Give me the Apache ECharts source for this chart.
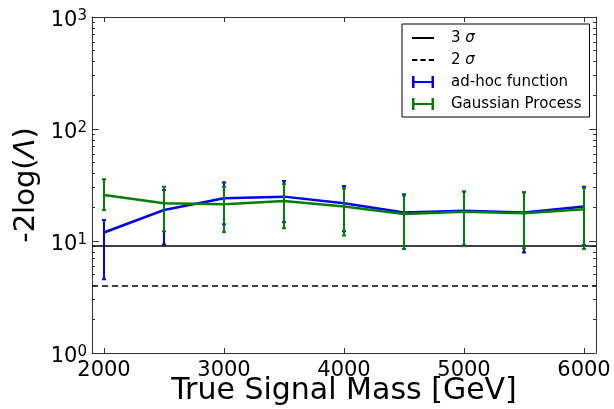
<!DOCTYPE html>
<html>
<head>
<meta charset="utf-8">
<script src="https://cdn.jsdelivr.net/npm/echarts@6/dist/echarts.min.js"></script>
<style>
html,body{margin:0;padding:0;background:#fff;}
#chart{width:614px;height:409px;}
</style>
</head>
<body>
<div id="chart"></div>
<script>
// ---- data ----
const masses   = [2000, 2500, 3000, 3500, 4000, 4500, 5000, 5500, 6000];
const adhoc    = [11.9, 18.9, 24.1, 24.9, 21.7, 18.0, 18.6, 18.0, 20.3];
const adhocLo  = [4.55, 9.3, 14.1, 14.7, 12.2, 8.5, 9.15, 7.9, 9.2];
const adhocHi  = [15.4, 28.5, 33.4, 34.3, 31.0, 26.1, 27.6, 27.2, 30.5];
const gp       = [25.7, 21.7, 21.3, 22.8, 20.3, 17.4, 18.2, 17.7, 19.2];
const gpLo     = [18.9, 12.2, 12.0, 13.0, 11.2, 8.5, 9.0, 8.6, 8.5];
const gpHi     = [35.6, 30.5, 30.5, 32.3, 29.5, 25.5, 27.6, 27.2, 29.7];
const sigmaNames  = ['3 σ', '2 σ'];
const sigmaValues = [9, 4];
const xTicks = [2000, 3000, 4000, 5000, 6000];
const yMajor = [1, 10, 100, 1000];
const yMinor = [2,3,4,5,6,7,8,9,20,30,40,50,60,70,80,90,200,300,400,500,600,700,800,900];

const FONT = 'DejaVu Sans';
const AXIS_COLOR = '#333';

function errBarRender(color) {
  return function (params, api) {
    const x = api.value(0);
    const lo = api.coord([x, api.value(1)]);
    const hi = api.coord([x, api.value(2)]);
    const cw = 2;
    const style = { stroke: color, lineWidth: 2 };
    return {
      type: 'group',
      children: [
        { type: 'line', shape: { x1: lo[0], y1: lo[1], x2: hi[0], y2: hi[1] }, style: style },
        { type: 'line', shape: { x1: lo[0]-cw, y1: lo[1], x2: lo[0]+cw, y2: lo[1] }, style: style },
        { type: 'line', shape: { x1: hi[0]-cw, y1: hi[1], x2: hi[0]+cw, y2: hi[1] }, style: style }
      ]
    };
  };
}

const zip2 = (a, b) => a.map((v, i) => [v, b[i]]);
const zip3 = (a, b, c) => a.map((v, i) => [v, b[i], c[i]]);

const yAxisBase = {
  type: 'log', logBase: 10, min: 1, max: 1000,
  splitLine: { show: false }, minorTick: { show: false }
};

const option = {
  animation: false,
  backgroundColor: '#fff',
  textStyle: { fontFamily: FONT },
  grid: { left: 92, top: 17, right: 18, bottom: 56, containLabel: false, outerBoundsMode: 'none' },
  xAxis: [
    {
      type: 'value', min: 1900, max: 6100, position: 'bottom',
      name: 'True Signal Mass [GeV]', nameLocation: 'middle', nameGap: 23, nameMoveOverlap: false,
      nameTextStyle: { fontFamily: FONT, fontSize: 30, color: '#000' },
      axisLine: { show: true, onZero: false, lineStyle: { color: AXIS_COLOR, width: 1 } },
      axisTick: { show: true, inside: true, length: 5, customValues: xTicks, lineStyle: { color: AXIS_COLOR } },
      axisLabel: {
        show: true, customValues: xTicks, fontFamily: FONT, fontSize: 21, color: '#000', margin: 7,
        formatter: function (v) { return String(v); }
      },
      splitLine: { show: false }
    },
    {
      type: 'value', min: 1900, max: 6100, position: 'top',
      axisLine: { show: true, onZero: false, lineStyle: { color: AXIS_COLOR, width: 1 } },
      axisTick: { show: true, inside: true, length: 5, customValues: xTicks, lineStyle: { color: AXIS_COLOR } },
      axisLabel: { show: false },
      splitLine: { show: false }
    }
  ],
  yAxis: [
    Object.assign({}, yAxisBase, {
      position: 'left',
      name: '{a|-2log(}{b|Λ}{a|)}', nameLocation: 'middle', nameGap: 51, nameRotate: 90, nameMoveOverlap: false,
      nameTextStyle: {
        rich: {
          a: { fontFamily: FONT, fontSize: 29, color: '#000' },
          b: { fontFamily: FONT, fontSize: 29, fontStyle: 'italic', color: '#000' }
        }
      },
      axisLine: { show: true, onZero: false, lineStyle: { color: AXIS_COLOR, width: 1 } },
      axisTick: { show: true, inside: true, length: 7, customValues: yMajor, lineStyle: { color: AXIS_COLOR } },
      axisLabel: {
        show: true, customValues: yMajor, margin: 5, padding: [8, 0, 0, 0],
        formatter: function (v) {
          const e = Math.round(Math.log10(v));
          return '{b|10}{s|' + e + '}';
        },
        rich: {
          b: { fontFamily: FONT, fontSize: 21, color: '#000' },
          s: { fontFamily: FONT, fontSize: 15, color: '#000', verticalAlign: 'top', padding: [0, 0, 10, 0] }
        }
      }
    }),
    Object.assign({}, yAxisBase, {
      position: 'left',
      axisLine: { show: false },
      axisTick: { show: true, inside: true, length: 3, customValues: yMinor, lineStyle: { color: AXIS_COLOR } },
      axisLabel: { show: false }
    }),
    Object.assign({}, yAxisBase, {
      position: 'right',
      axisLine: { show: true, onZero: false, lineStyle: { color: AXIS_COLOR, width: 1 } },
      axisTick: { show: true, inside: true, length: 7, customValues: yMajor, lineStyle: { color: AXIS_COLOR } },
      axisLabel: { show: false }
    }),
    Object.assign({}, yAxisBase, {
      position: 'right',
      axisLine: { show: false },
      axisTick: { show: true, inside: true, length: 3, customValues: yMinor, lineStyle: { color: AXIS_COLOR } },
      axisLabel: { show: false }
    })
  ],
  legend: {
    orient: 'vertical',
    left: 402, top: 24,
    padding: [6, 8, 5, 10],
    backgroundColor: '#fff',
    borderColor: '#000', borderWidth: 1, borderRadius: 0,
    itemWidth: 22, itemHeight: 12, itemGap: 6,
    formatter: function (name) { return name.replace('σ', '{i|σ}'); },
    textStyle: {
      fontFamily: FONT, fontSize: 15, lineHeight: 16, color: '#000', padding: [0, 0, 0, 12],
      rich: { i: { fontFamily: FONT, fontSize: 15, lineHeight: 16, fontStyle: 'italic', color: '#000' } }
    },
    data: [
      { name: sigmaNames[0], icon: 'path://M0,5h22v2h-22z', itemStyle: { color: '#000' } },
      { name: sigmaNames[1], icon: 'path://M0,5h5v2h-5zM8,5h5v2h-5zM16,5h5v2h-5z', itemStyle: { color: '#000' } },
      { name: 'ad-hoc function', icon: 'path://M0,0h2.5v5h17v-5h2.5v12h-2.5v-5h-17v5h-2.5z', itemStyle: { color: '#0000ff' } },
      { name: 'Gaussian Process', icon: 'path://M0,0h2.5v5h17v-5h2.5v12h-2.5v-5h-17v5h-2.5z', itemStyle: { color: '#008000' } }
    ]
  },
  series: [
    {
      name: sigmaNames[0], type: 'line', data: [], xAxisIndex: 0, yAxisIndex: 0,
      itemStyle: { color: '#000' },
      markLine: {
        silent: true, symbol: 'none', label: { show: false },
        lineStyle: { color: '#000', width: 1.5, type: 'solid' },
        data: [{ yAxis: sigmaValues[0] }]
      }
    },
    {
      name: sigmaNames[1], type: 'line', data: [], xAxisIndex: 0, yAxisIndex: 0,
      itemStyle: { color: '#000' },
      markLine: {
        silent: true, symbol: 'none', label: { show: false },
        lineStyle: { color: '#000', width: 1.5, type: [6, 4] },
        data: [{ yAxis: sigmaValues[1] }]
      }
    },
    {
      name: 'ad-hoc function', type: 'line', xAxisIndex: 0, yAxisIndex: 0,
      data: zip2(masses, adhoc), showSymbol: false, symbol: 'none',
      lineStyle: { color: '#0000ff', width: 2.5 }, itemStyle: { color: '#0000ff' }, z: 3
    },
    {
      name: 'ad-hoc function', type: 'custom', xAxisIndex: 0, yAxisIndex: 0,
      data: zip3(masses, adhocLo, adhocHi),
      encode: { x: 0, y: [1, 2] },
      renderItem: errBarRender('#0000ff'), itemStyle: { color: '#0000ff' }, z: 4
    },
    {
      name: 'Gaussian Process', type: 'line', xAxisIndex: 0, yAxisIndex: 0,
      data: zip2(masses, gp), showSymbol: false, symbol: 'none',
      lineStyle: { color: '#008000', width: 2.5 }, itemStyle: { color: '#008000' }, z: 5
    },
    {
      name: 'Gaussian Process', type: 'custom', xAxisIndex: 0, yAxisIndex: 0,
      data: zip3(masses, gpLo, gpHi),
      encode: { x: 0, y: [1, 2] },
      renderItem: errBarRender('#008000'), itemStyle: { color: '#008000' }, z: 6
    }
  ]
};

const chart = echarts.init(document.getElementById('chart'), null, { renderer: 'canvas' });
chart.setOption(option);
</script>
</body>
</html>
